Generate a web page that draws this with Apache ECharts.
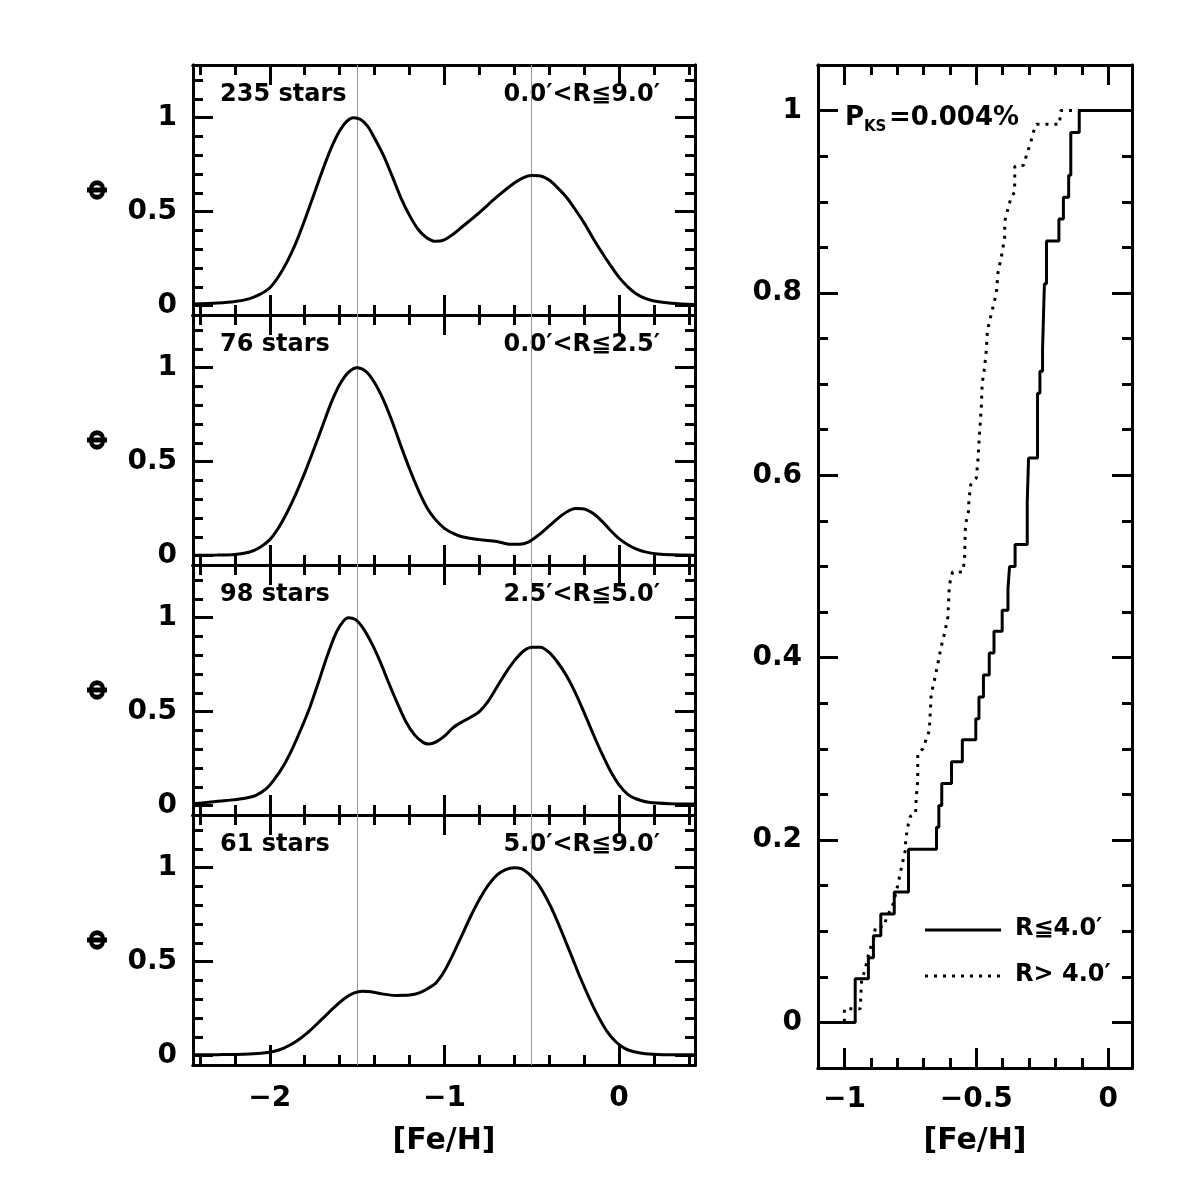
<!DOCTYPE html>
<html>
<head>
<meta charset="utf-8">
<script src="https://cdn.jsdelivr.net/npm/echarts@6/dist/echarts.min.js"></script>
<style>
  html, body { margin: 0; background: #fff; }
  #chart { width: 1195px; height: 1195px; }
</style>
</head>
<body>
<div id="chart"></div>
<script>
const FONT = '"DejaVu Sans", sans-serif';

// MDF curves, one pair of arrays per radial bin
const allFeH = [-2.44, -2.3, -2.2, -2.12, -2.06, -2.0, -1.95, -1.9, -1.85, -1.8, -1.75, -1.7, -1.65, -1.6, -1.56, -1.52, -1.48, -1.44, -1.4, -1.35, -1.3, -1.25, -1.2, -1.15, -1.1, -1.05, -1.0, -0.95, -0.9, -0.8, -0.7, -0.6, -0.55, -0.5, -0.45, -0.4, -0.35, -0.3, -0.25, -0.2, -0.15, -0.1, -0.05, 0.0, 0.05, 0.1, 0.15, 0.2, 0.3, 0.435];
const allPhi = [0.008, 0.014, 0.022, 0.036, 0.058, 0.095, 0.155, 0.235, 0.335, 0.455, 0.585, 0.715, 0.835, 0.93, 0.98, 1.0, 0.99, 0.955, 0.89, 0.8, 0.69, 0.575, 0.48, 0.405, 0.36, 0.342, 0.35, 0.38, 0.418, 0.495, 0.578, 0.652, 0.68, 0.692, 0.69, 0.668, 0.625, 0.575, 0.51, 0.44, 0.36, 0.285, 0.215, 0.15, 0.1, 0.062, 0.038, 0.025, 0.013, 0.006];

const innerFeH = [-2.44, -2.3, -2.2, -2.12, -2.06, -2.0, -1.95, -1.9, -1.85, -1.8, -1.75, -1.7, -1.65, -1.6, -1.55, -1.5, -1.45, -1.4, -1.35, -1.3, -1.25, -1.2, -1.15, -1.1, -1.05, -1.0, -0.95, -0.9, -0.8, -0.7, -0.62, -0.57, -0.52, -0.46, -0.4, -0.35, -0.3, -0.25, -0.2, -0.15, -0.1, -0.05, 0.0, 0.05, 0.1, 0.15, 0.22, 0.3, 0.435];
const innerPhi = [0.002, 0.003, 0.006, 0.018, 0.042, 0.085, 0.148, 0.232, 0.33, 0.44, 0.56, 0.685, 0.81, 0.91, 0.975, 1.0, 0.98, 0.92, 0.83, 0.715, 0.585, 0.462, 0.35, 0.255, 0.19, 0.145, 0.118, 0.1, 0.085, 0.075, 0.06, 0.06, 0.072, 0.11, 0.158, 0.198, 0.232, 0.25, 0.248, 0.225, 0.185, 0.135, 0.09, 0.058, 0.035, 0.02, 0.009, 0.004, 0.002];

const midFeH = [-2.44, -2.35, -2.25, -2.15, -2.08, -2.02, -1.97, -1.92, -1.87, -1.82, -1.77, -1.72, -1.67, -1.62, -1.58, -1.55, -1.51, -1.47, -1.42, -1.37, -1.32, -1.27, -1.22, -1.17, -1.12, -1.09, -1.05, -1.0, -0.95, -0.9, -0.85, -0.8, -0.75, -0.7, -0.65, -0.6, -0.55, -0.5, -0.45, -0.4, -0.35, -0.3, -0.25, -0.2, -0.15, -0.1, -0.05, 0.0, 0.05, 0.1, 0.17, 0.3, 0.435];
const midPhi = [0.01, 0.018, 0.027, 0.038, 0.055, 0.09, 0.145, 0.215, 0.305, 0.41, 0.525, 0.66, 0.8, 0.92, 0.98, 1.0, 0.99, 0.95, 0.87, 0.77, 0.655, 0.545, 0.445, 0.375, 0.335, 0.328, 0.338, 0.37, 0.415, 0.445, 0.47, 0.5, 0.555, 0.63, 0.705, 0.77, 0.82, 0.842, 0.843, 0.815, 0.76, 0.69, 0.6, 0.495, 0.385, 0.28, 0.185, 0.11, 0.06, 0.035, 0.018, 0.01, 0.008];

const outerFeH = [-2.44, -2.3, -2.15, -2.05, -1.98, -1.92, -1.85, -1.78, -1.7, -1.63, -1.57, -1.52, -1.47, -1.42, -1.35, -1.28, -1.2, -1.14, -1.09, -1.05, -1.0, -0.95, -0.9, -0.85, -0.8, -0.75, -0.7, -0.65, -0.6, -0.56, -0.52, -0.47, -0.42, -0.37, -0.32, -0.27, -0.22, -0.17, -0.12, -0.07, -0.02, 0.03, 0.08, 0.15, 0.25, 0.435];
const outerPhi = [0.004, 0.005, 0.007, 0.012, 0.022, 0.04, 0.075, 0.125, 0.195, 0.258, 0.305, 0.332, 0.343, 0.34, 0.327, 0.32, 0.322, 0.335, 0.36, 0.385, 0.45, 0.54, 0.64, 0.74, 0.83, 0.905, 0.96, 0.99, 1.0, 0.995, 0.97, 0.92, 0.845, 0.75, 0.64, 0.525, 0.41, 0.305, 0.21, 0.13, 0.075, 0.04, 0.022, 0.01, 0.005, 0.004];

const starLabels = ['235 stars', '76 stars', '98 stars', '61 stars'];
const rangeLabels = ['0.0′<R≦9.0′', '0.0′<R≦2.5′', '2.5′<R≦5.0′', '5.0′<R≦9.0′'];

// cumulative distributions: step positions and fractions
const cdfInFeH = [-1.10, -0.959, -0.909, -0.890, -0.862, -0.811, -0.757, -0.651, -0.642, -0.631, -0.594, -0.553, -0.502, -0.490, -0.473, -0.451, -0.433, -0.402, -0.380, -0.374, -0.353, -0.307, -0.302, -0.268, -0.259, -0.249, -0.242, -0.234, -0.187, -0.170, -0.150, -0.142, -0.110, 0.09];
const cdfInFrac = [0, 0.048, 0.071, 0.095, 0.119, 0.143, 0.190, 0.214, 0.238, 0.262, 0.286, 0.310, 0.333, 0.357, 0.381, 0.405, 0.429, 0.452, 0.476, 0.5, 0.524, 0.571, 0.619, 0.690, 0.714, 0.738, 0.810, 0.857, 0.881, 0.905, 0.929, 0.976, 1.0, 1.0];

const cdfOutFeH = [-1.10, -1.0, -1.0, -0.94, -0.935, -0.92, -0.906, -0.89, -0.882, -0.85, -0.84, -0.815, -0.798, -0.782, -0.768, -0.768, -0.758, -0.75, -0.73, -0.728, -0.722, -0.722, -0.703, -0.678, -0.671, -0.659, -0.646, -0.634, -0.621, -0.608, -0.602, -0.59, -0.552, -0.545, -0.541, -0.53, -0.528, -0.521, -0.50, -0.494, -0.488, -0.481, -0.478, -0.469, -0.462, -0.458, -0.443, -0.424, -0.418, -0.405, -0.393, -0.392, -0.37, -0.355, -0.354, -0.321, -0.308, -0.296, -0.283, -0.272, -0.185, -0.18, 0.09];
const cdfOutFrac = [0, 0, 0.015, 0.015, 0.045, 0.06, 0.078, 0.09, 0.105, 0.105, 0.115, 0.13, 0.15, 0.172, 0.19, 0.20, 0.217, 0.226, 0.229, 0.245, 0.265, 0.295, 0.30, 0.32, 0.36, 0.375, 0.393, 0.411, 0.426, 0.444, 0.48, 0.494, 0.494, 0.506, 0.546, 0.56, 0.573, 0.59, 0.597, 0.616, 0.645, 0.675, 0.70, 0.718, 0.737, 0.759, 0.777, 0.80, 0.822, 0.84, 0.86, 0.879, 0.903, 0.911, 0.939, 0.94, 0.953, 0.963, 0.977, 0.985, 0.985, 1.0, 1.0];

// ticks
const feHTicks = [-2, -1, 0];
const feHMinor = [-2.4, -2.2, -2.0, -1.8, -1.6, -1.4, -1.2, -1.0, -0.8, -0.6, -0.4, -0.2, 0, 0.2, 0.4];
const phiTicks = [0, 0.5, 1];
const phiMinor = [0, 0.1, 0.2, 0.3, 0.4, 0.5, 0.6, 0.7, 0.8, 0.9, 1.0, 1.1, 1.2];
const cdfFeHTicks = [-1, -0.5, 0];
const cdfFeHMinor = [-1, -0.9, -0.8, -0.7, -0.6, -0.5, -0.4, -0.3, -0.2, -0.1, 0];
const cdfTicks = [0, 0.2, 0.4, 0.6, 0.8, 1];
const cdfMinor = [0, 0.05, 0.1, 0.15, 0.2, 0.25, 0.3, 0.35, 0.4, 0.45, 0.5, 0.55, 0.6, 0.65, 0.7, 0.75, 0.8, 0.85, 0.9, 0.95, 1.0];
const guideFeH = [-1.5, -0.5];

const panels = [
  [allFeH, allPhi],
  [innerFeH, innerPhi],
  [midFeH, midPhi],
  [outerFeH, outerPhi],
];

const fmt = (v) => String(v).replace('-', '\u2212');
const labelStyle = { color: '#000', fontFamily: FONT, fontWeight: 'bold', fontSize: 28 };

// one axis = one side of the frame; majors and minors are separate axes
function makeAxis(grid, position, min, max, ticks, tickLen, labels, extra) {
  return Object.assign({
    type: 'value',
    gridIndex: grid,
    position: position,
    min: min,
    max: max,
    axisLine: { show: true, onZero: false, lineStyle: { color: '#000', width: 3 } },
    axisTick: { show: true, inside: true, length: tickLen, customValues: ticks, lineStyle: { color: '#000', width: 3 } },
    axisLabel: labels
      ? Object.assign({ show: true, customValues: ticks, formatter: fmt, margin: 16 }, labelStyle)
      : { show: false },
    splitLine: { show: false },
  }, extra || {});
}

const grids = [];
const xAxes = [];
const yAxes = [];
const series = [];
const graphics = [];

panels.forEach(([feh, phi], k) => {
  const top = 65 + 250 * k;
  grids.push({ left: 193, top: top, width: 502, height: 250 });
  const last = k === panels.length - 1;
  const xmin = -2.44, xmax = 0.435, ymin = -0.05, ymax = 1.28;
  const xName = last ? { name: '[Fe/H]', nameLocation: 'middle', nameGap: 61,
    nameTextStyle: Object.assign({}, labelStyle, { fontSize: 30 }) } : {};
  const xLab = last ? { axisLabel: Object.assign({ show: true, customValues: feHTicks, formatter: fmt, margin: 20 }, labelStyle) } : {};
  xAxes.push(makeAxis(k, 'bottom', xmin, xmax, feHTicks, 20, last, Object.assign(xName, xLab)));
  xAxes.push(makeAxis(k, 'bottom', xmin, xmax, feHMinor, 10, false));
  xAxes.push(makeAxis(k, 'top', xmin, xmax, feHTicks, 20, false));
  xAxes.push(makeAxis(k, 'top', xmin, xmax, feHMinor, 10, false));
  yAxes.push(makeAxis(k, 'left', ymin, ymax, phiTicks, 20, true, {
    name: 'Φ', nameLocation: 'middle', nameGap: 80,
    nameTextStyle: Object.assign({}, labelStyle, { fontSize: 26 }),
  }));
  yAxes.push(makeAxis(k, 'left', ymin, ymax, phiMinor, 10, false));
  yAxes.push(makeAxis(k, 'right', ymin, ymax, phiTicks, 20, false));
  yAxes.push(makeAxis(k, 'right', ymin, ymax, phiMinor, 10, false));

  series.push({
    type: 'line',
    xAxisIndex: 4 * k,
    yAxisIndex: 4 * k,
    data: feh.map((x, i) => [x, phi[i]]),
    smooth: 0.3,
    showSymbol: false,
    lineStyle: { color: '#000', width: 3 },
    z: 3,
    markLine: {
      silent: true,
      symbol: 'none',
      label: { show: false },
      lineStyle: { color: '#9a9a9a', width: 1, type: 'solid' },
      data: guideFeH.map((v) => ({ xAxis: v })),
      z: 1,
    },
  });

  graphics.push({
    type: 'text', left: 220, top: top + 18,
    style: { text: starLabels[k], font: 'bold 24px ' + FONT, fill: '#000' },
  });
  graphics.push({
    type: 'text', right: 1195 - 660, top: top + 18,
    style: { text: rangeLabels[k], font: 'bold 24px ' + FONT, fill: '#000' },
  });
});

// right panel: cumulative distributions
const g = panels.length;
grids.push({ left: 818, top: 65, width: 314, height: 1003 });
const cx0 = -1.1, cx1 = 0.09, cy0 = -0.05, cy1 = 1.05;
xAxes.push(makeAxis(g, 'bottom', cx0, cx1, cdfFeHTicks, 20, true, {
  name: '[Fe/H]', nameLocation: 'middle', nameGap: 58,
  nameTextStyle: Object.assign({}, labelStyle, { fontSize: 30 }),
  axisLabel: Object.assign({ show: true, customValues: cdfFeHTicks, formatter: fmt, margin: 18 }, labelStyle),
}));
xAxes.push(makeAxis(g, 'bottom', cx0, cx1, cdfFeHMinor, 10, false));
xAxes.push(makeAxis(g, 'top', cx0, cx1, cdfFeHTicks, 20, false));
xAxes.push(makeAxis(g, 'top', cx0, cx1, cdfFeHMinor, 10, false));
yAxes.push(makeAxis(g, 'left', cy0, cy1, cdfTicks, 20, true));
yAxes.push(makeAxis(g, 'left', cy0, cy1, cdfMinor, 10, false));
yAxes.push(makeAxis(g, 'right', cy0, cy1, cdfTicks, 20, false));
yAxes.push(makeAxis(g, 'right', cy0, cy1, cdfMinor, 10, false));

series.push({
  type: 'line',
  xAxisIndex: 4 * g,
  yAxisIndex: 4 * g,
  data: cdfOutFeH.map((x, i) => [x, cdfOutFrac[i]]),
  showSymbol: false,
  lineStyle: { color: '#000', width: 3, type: [3, 6], cap: 'butt' },
  z: 3,
});
series.push({
  type: 'line',
  xAxisIndex: 4 * g,
  yAxisIndex: 4 * g,
  data: cdfInFeH.map((x, i) => [x, cdfInFrac[i]]),
  step: 'end',
  showSymbol: false,
  lineStyle: { color: '#000', width: 3 },
  z: 4,
});

graphics.push(
  { type: 'text', left: 845, top: 105, style: { text: 'P', font: 'bold 26px ' + FONT, fill: '#000' } },
  { type: 'text', left: 864, top: 120, style: { text: 'KS', font: 'bold 15px ' + FONT, fill: '#000' } },
  { type: 'text', left: 889, top: 105, style: { text: '=0.004%', font: 'bold 26px ' + FONT, fill: '#000' } },
  { type: 'line', shape: { x1: 925, y1: 930, x2: 1001, y2: 930 }, style: { stroke: '#000', lineWidth: 3 } },
  { type: 'text', left: 1015, top: 917, style: { text: 'R≦4.0′', font: 'bold 24px ' + FONT, fill: '#000' } },
  { type: 'line', shape: { x1: 925, y1: 976, x2: 1001, y2: 976 }, style: { stroke: '#000', lineWidth: 3, lineDash: [3, 6] } },
  { type: 'text', left: 1015, top: 963, style: { text: 'R> 4.0′', font: 'bold 24px ' + FONT, fill: '#000' } }
);

const chart = echarts.init(document.getElementById('chart'), null, { renderer: 'canvas' });
chart.setOption({
  animation: false,
  backgroundColor: '#fff',
  grid: grids,
  xAxis: xAxes,
  yAxis: yAxes,
  series: series,
  graphic: graphics,
});
</script>
</body>
</html>
